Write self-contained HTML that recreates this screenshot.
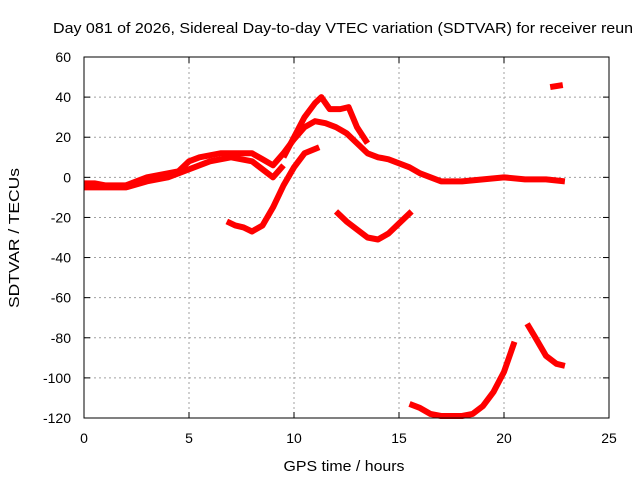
<!DOCTYPE html>
<html><head><meta charset="utf-8"><style>
body{margin:0;background:#fff}
svg{display:block;font-family:"Liberation Sans",sans-serif}
</style></head><body>
<svg id="chart" width="640" height="480">
<rect width="640" height="480" fill="#fff"/>
<text x="53" y="33" font-size="15" textLength="580" lengthAdjust="spacingAndGlyphs" fill="#000">Day 081 of 2026, Sidereal Day-to-day VTEC variation (SDTVAR) for receiver reun</text>
<g id="grid"></g><g id="ticks"></g><g id="series"></g>
<rect x="84" y="57" width="525" height="361" fill="none" stroke="#000" stroke-width="1"/>
<text x="344" y="471" font-size="15" text-anchor="middle" textLength="121" lengthAdjust="spacingAndGlyphs">GPS time / hours</text>
<text transform="translate(19,238) rotate(-90)" font-size="15" text-anchor="middle" textLength="140" lengthAdjust="spacingAndGlyphs">SDTVAR / TECUs</text>
</svg>
<script>
const xTicks=[0,5,10,15,20,25];
const yTicks=[60,40,20,0,-20,-40,-60,-80,-100,-120];
const mainX=[0,0.5,1,1.5,2,2.5,3,3.5,4,4.5,5,5.5,6,6.5,7,7.5,8,8.5,9,9.5,10,10.5,11,11.5,12,12.5,13,13.5,14,14.5,15,15.5,16,16.5,17,18,19,20,21,22,22.9];
const mainY=[-3,-3,-4,-4,-4,-2,0,1,2,3,8,10,11,12,12,12,12,9,6,12,19,25,28,27,25,22,17,12,10,9,7,5,2,0,-2,-2,-1,0,-1,-1,-2];
const lowX=[0,1,2,3,4,5,6,7,8,8.5,9,9.5];
const lowY=[-5,-5,-5,-2,0,4,8,10,8,4,0,6];
const upX=[9.5,10,10.5,11,11.3,11.7,12.2,12.6,13,13.5];
const upY=[10,20,30,37,40,34,34,35,25,17];
const riseX=[6.8,7.2,7.6,8,8.5,9,9.5,10,10.5,11.2];
const riseY=[-22,-24,-25,-27,-24,-15,-4,5,12,15];
const dipX=[12,12.5,13,13.5,14,14.5,15,15.6];
const dipY=[-17,-22,-26,-30,-31,-28,-23,-17];
const bottomX=[15.5,16,16.5,17,18,18.5,19,19.5,20,20.5];
const bottomY=[-113,-115,-118,-119,-119,-118,-114,-107,-97,-82];
const lateX=[21.1,21.5,22,22.5,22.9];
const lateY=[-73,-80,-89,-93,-94];
const topX=[22.2,22.8];
const topY=[45,46];
const X=v=>84+v*21, Y=v=>57+(60-v)*361/180;
const ns="http://www.w3.org/2000/svg";
const g=document.getElementById('grid'),t=document.getElementById('ticks'),s=document.getElementById('series');
function mk(tag,at,p){const e=document.createElementNS(ns,tag);for(const k in at)e.setAttribute(k,at[k]);p.appendChild(e);return e;}
xTicks.forEach(v=>{
 if(v>0&&v<25){const l=mk('line',{x1:X(v),x2:X(v),y1:57,y2:418,stroke:'#a0a0a0','stroke-dasharray':'2,3'},g);
 
 }
 mk('line',{x1:X(v),x2:X(v),y1:418,y2:412,stroke:'#000'},t);mk('line',{x1:X(v),x2:X(v),y1:57,y2:63,stroke:'#000'},t);
 const tx=mk('text',{x:X(v),y:443,'font-size':14,'text-anchor':'middle'},t);tx.textContent=v;
 
 
});
yTicks.forEach(v=>{
 if(v>-120&&v<60){const l=mk('line',{x1:84,x2:609,y1:Y(v),y2:Y(v),stroke:'#a0a0a0','stroke-dasharray':'2,3'},g);
 
 }
 mk('line',{x1:84,x2:90,y1:Y(v),y2:Y(v),stroke:'#000'},t);mk('line',{x1:603,x2:609,y1:Y(v),y2:Y(v),stroke:'#000'},t);
 const tx=mk('text',{x:71,y:Y(v)+5,'font-size':14,'text-anchor':'end'},t);tx.textContent=v;
 
 
});
function line(xs,ys,name){
 const p=mk('polyline',{points:xs.map((x,i)=>X(x)+','+Y(ys[i])).join(' '),fill:'none',stroke:'#ff0000','stroke-width':6,'stroke-linejoin':'round','stroke-linecap':'butt'},s);
 
 
}
line(mainX,mainY,'series-main');
line(lowX,lowY,'series-main-lower');
line(upX,upY,'series-peak');
line(riseX,riseY,'series-rise');
line(dipX,dipY,'series-dip');
line(bottomX,bottomY,'series-bottom');
line(lateX,lateY,'series-late');
line(topX,topY,'series-top');
</script>
</body></html>
